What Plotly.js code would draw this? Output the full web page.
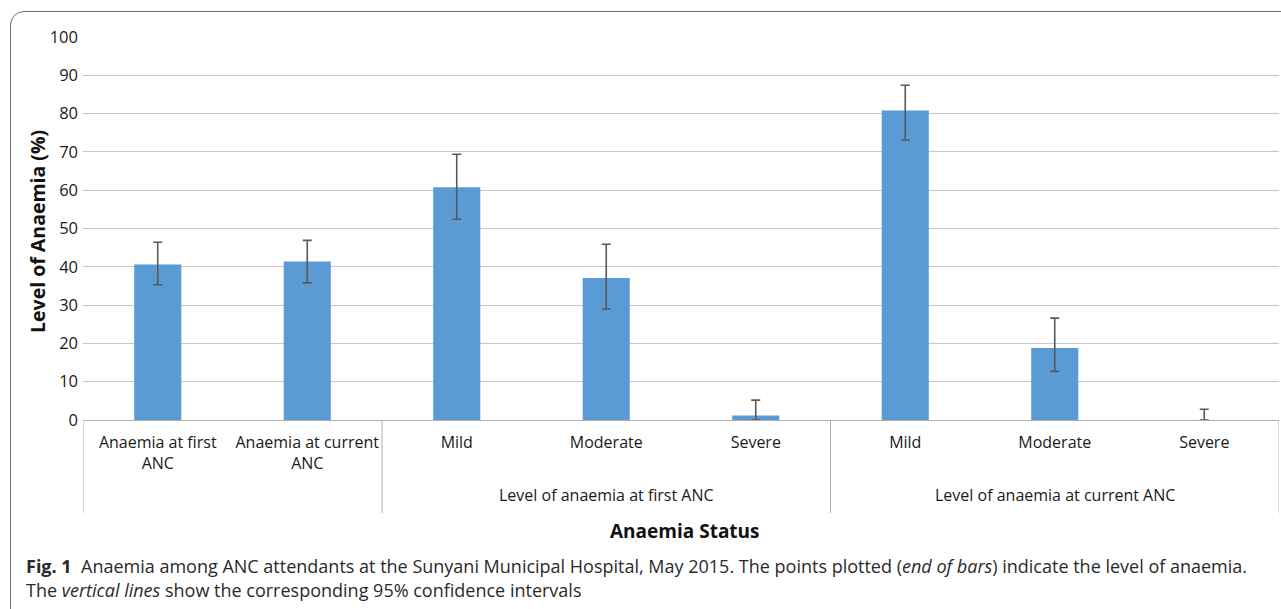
<!DOCTYPE html>
<html>
<head>
<meta charset="utf-8">
<script src="https://cdn.plot.ly/plotly-3.0.1.min.js"></script>
<style>
  html, body { margin: 0; padding: 0; background: #ffffff; }
  #wrap { position: relative; width: 1281px; height: 609px; overflow: hidden; }
  #chart { position: absolute; left: 0; top: 0; width: 1281px; height: 609px; }
  #frame { position: absolute; left: 10px; top: 11px; width: 1320px; height: 640px;
           border: 1px solid #6e6e6e; border-radius: 14px; pointer-events: none; box-sizing: border-box; }
</style>
</head>
<body>
<div id="wrap">
  <div id="chart"></div>
  <div id="frame"></div>
</div>
<script>
// ---- data ----
const categories = ["Anaemia at first<br>ANC", "Anaemia at current<br>ANC", "Mild", "Moderate", "Severe", "Mild", "Moderate", "Severe"];
const groups = ["", "Level of anaemia at first ANC", "Level of anaemia at current ANC"];
const groupSpans = [[0, 1], [2, 4], [5, 7]];
const values = [40.6, 41.4, 60.8, 37.1, 1.2, 80.8, 18.8, 0];
const ciLower = [35.3, 35.8, 52.4, 29.0, 0, 73.1, 12.7, 0];
const ciUpper = [46.4, 46.9, 69.4, 45.9, 5.2, 87.4, 26.6, 2.8];
const yTicks = [0, 10, 20, 30, 40, 50, 60, 70, 80, 90, 100];
const xTitle = "Anaemia Status";
const yTitle = "Level of Anaemia (%)";
const captionLine1 = "<b>Fig. 1</b>  Anaemia among ANC attendants at the Sunyani Municipal Hospital, May 2015. The points plotted (<i>end of bars</i>) indicate the level of anaemia.";
const captionLine2 = "The <i>vertical lines</i> show the corresponding 95% confidence intervals";

// ---- layout geometry ----
const W = 1281, H = 609;
const mL = 83, mR = 2, mT = 37, mB = 189;
const pw = W - mL - mR, ph = H - mT - mB;
const px = p => (p - mL) / pw;          // pixel x -> paper x
const py = q => (H - mB - q) / ph;      // pixel y -> paper y

const FONT = "Open Sans, sans-serif";
const idx = categories.map((_, i) => i);
const errPlus = values.map((v, i) => ciUpper[i] - v);
const errMinus = values.map((v, i) => v - ciLower[i]);

const trace = {
  type: "bar",
  x: idx,
  y: values,
  width: 0.315,
  marker: { color: "#5b9bd5", line: { width: 0 } },
  error_y: {
    type: "data", symmetric: false,
    array: errPlus, arrayminus: errMinus,
    color: "#595959", thickness: 1.6, width: 4.5
  },
  hoverinfo: "y"
};

const shapes = [];
const bounds = [-0.5];
groupSpans.forEach(s => bounds.push(s[1] + 0.5));
bounds.forEach(b => {
  shapes.push({
    type: "line", xref: "x", yref: "paper",
    x0: b, x1: b, y0: 0, y1: py(513),
    line: { color: "#b0b0b0", width: 1 }
  });
});

const annotations = [];
groupSpans.forEach((s, gi) => {
  if (!groups[gi]) return;
  annotations.push({
    xref: "x", yref: "paper", x: (s[0] + s[1]) / 2, y: py(495),
    text: groups[gi], showarrow: false, xanchor: "center", yanchor: "middle",
    font: { family: FONT, size: 16, color: "#1a1a1a" }
  });
});
annotations.push({
  xref: "paper", yref: "paper", x: px(685), y: py(531),
  text: "<b>" + xTitle + "</b>", showarrow: false, xanchor: "center", yanchor: "middle",
  font: { family: FONT, size: 19, color: "#111111" }
});
annotations.push({
  xref: "paper", yref: "paper", x: px(37), y: py(232),
  text: "<b>" + yTitle + "</b>", showarrow: false, textangle: -90,
  xanchor: "center", yanchor: "middle",
  font: { family: FONT, size: 19.5, color: "#111111" }
});
annotations.push({
  xref: "paper", yref: "paper", x: px(24), y: py(566),
  text: captionLine1, showarrow: false, xanchor: "left", yanchor: "middle", align: "left",
  font: { family: FONT, size: 18, color: "#2a2a2a" }
});
annotations.push({
  xref: "paper", yref: "paper", x: px(24), y: py(590),
  text: captionLine2, showarrow: false, xanchor: "left", yanchor: "middle", align: "left",
  font: { family: FONT, size: 18, color: "#2a2a2a" }
});

const layout = {
  width: W, height: H,
  margin: { l: mL, r: mR, t: mT, b: mB, pad: 0 },
  paper_bgcolor: "#ffffff", plot_bgcolor: "#ffffff",
  showlegend: false,
  xaxis: {
    range: [-0.5, 7.5], tickmode: "array", tickvals: idx, ticktext: categories,
    showgrid: false, zeroline: false, showline: true, linecolor: "#b0b0b0", linewidth: 1,
    ticks: "", ticklabelstandoff: 8,
    tickfont: { family: FONT, size: 16, color: "#1a1a1a" },
    fixedrange: true
  },
  yaxis: {
    range: [0, 100], tickmode: "array", tickvals: yTicks,
    showgrid: true, gridcolor: "#c6c6c6", gridwidth: 1,
    zeroline: false, showline: false, ticks: "", ticklabelstandoff: 4,
    tickfont: { family: FONT, size: 16.5, color: "#1a1a1a" },
    fixedrange: true
  },
  shapes: shapes,
  annotations: annotations
};

Plotly.newPlot("chart", [trace], layout, { displayModeBar: false, staticPlot: true });
</script>
</body>
</html>
